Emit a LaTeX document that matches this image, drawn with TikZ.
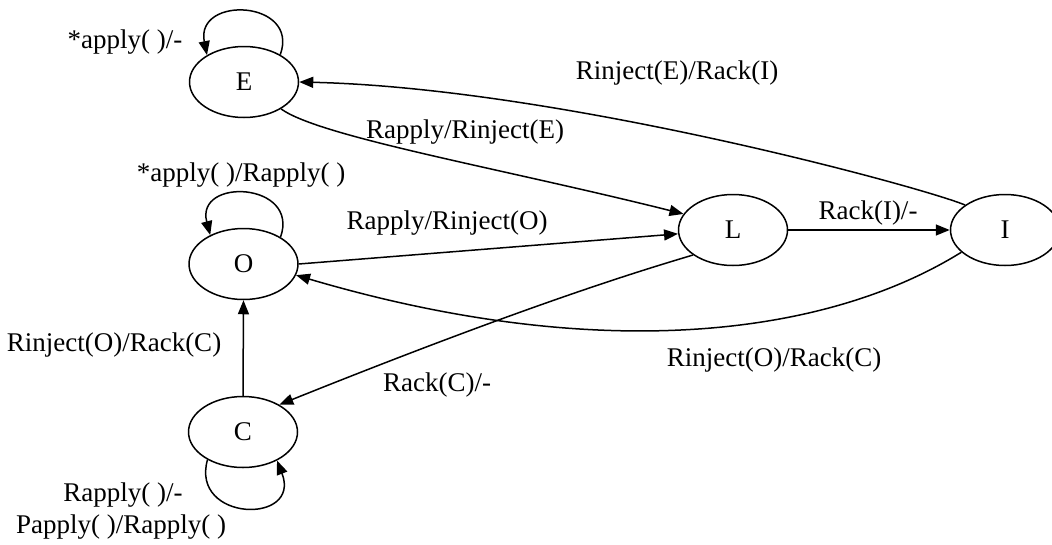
\documentclass[tikz,border=0pt]{standalone}
\usepackage{fontspec}
\setmainfont{Liberation Serif}
\usetikzlibrary{arrows.meta,shapes.geometric}
\begin{document}
\begin{tikzpicture}[x=1pt,y=-1pt,
  state/.style={draw,ellipse,line width=1.5pt,inner sep=0pt,minimum width=109pt,minimum height=71pt,font=\fontsize{27pt}{30pt}\selectfont},
  lbl/.style={inner sep=0pt,font=\fontsize{27pt}{30pt}\selectfont},
  edge/.style={line width=1.5pt,-{Triangle[length=14pt,width=11pt]}}]
\useasboundingbox (0,0) rectangle (1052,544);
\node[state] (E) at (244,82) {E};
\node[state] (O) at (243.5,264) {O};
\node[state] (C) at (243,432) {C};
\node[state] (L) at (733,230) {L};
\node[state] (I) at (1005,230) {I};
% self loops
\draw[edge] (E.37) .. controls (300,0) and (195,-5) .. (E.144);
\draw[edge] (O.36) .. controls (300,182) and (195,177) .. (O.139);
\draw[edge] (C.218) .. controls (190,522) and (302,525) .. (C.-40);
% other edges
\draw[edge] (C.north) -- (O.south);
\draw[edge] (E.-36) .. controls (320,137) and (500,168) .. (L.162);
\draw[edge] (O.east) -- (L.184);
\draw[edge] (L.212) .. controls (650,268) and (540,300) .. (C.37);
\draw[edge] (L.east) -- (I.west);
\draw[edge] (I.148) .. controls (925,188) and (560,88) .. (E.east);
\draw[edge] (I.207) .. controls (820,340) and (590,362) .. (O.-12);
% labels
\node[lbl] (lE) at (125,42) {*apply( )/-};
\node[lbl] (lO) at (241,175) {*apply( )/Rapply( )};
\node[lbl] (lCO) at (114,345) {Rinject(O)/Rack(C)};
\node[lbl] (lC1) at (123,495) {Rapply( )/-};
\node[lbl] (lC2) at (121,527) {Papply( )/Rapply( )};
\node[lbl] (lEL) at (465,132) {Rapply/Rinject(E)};
\node[lbl] (lOL) at (447,223) {Rapply/Rinject(O)};
\node[lbl] (lIE) at (677,73) {Rinject(E)/Rack(I)};
\node[lbl] (lLI) at (868,213) {Rack(I)/-};
\node[lbl] (lIO) at (774,360) {Rinject(O)/Rack(C)};
\node[lbl] (lLC) at (437,385) {Rack(C)/-};
\end{tikzpicture}
\end{document}
